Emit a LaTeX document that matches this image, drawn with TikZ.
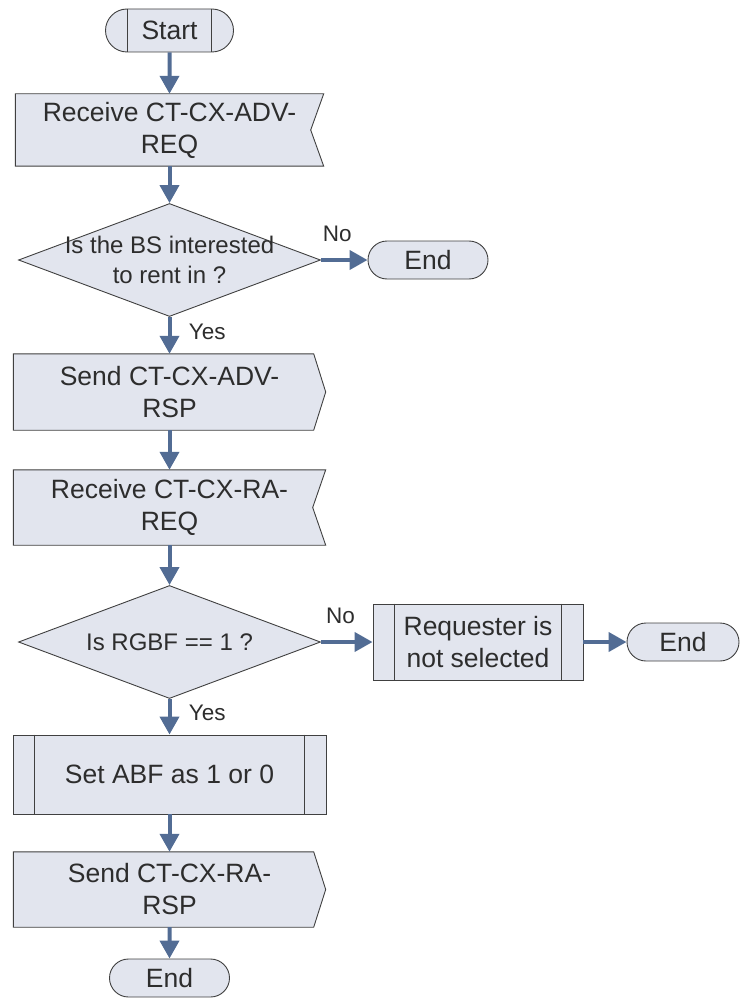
\documentclass[tikz,border=0pt]{standalone}
\usepackage{fontspec}
\setmainfont{Liberation Sans}
\usetikzlibrary{
    arrows.meta,
    shapes.geometric,
    shapes.misc,
    backgrounds,
    positioning
}
\definecolor{boxfill}{RGB}{226,229,238}
\definecolor{boxline}{RGB}{64,64,64}
\definecolor{flowblue}{RGB}{82,108,148}
\definecolor{ink}{RGB}{45,45,45}
\tikzset {
    shapeframe/.style = {draw = boxline, fill = boxfill, line width = 0.9pt},
    innerline/.style = {draw = boxline, line width = 0.9pt},
    box/.style = {
        rectangle,
        minimum width = 312pt,
        minimum height = 75pt,
        inner sep = 0pt,
        align = center,
        text = ink,
        font = \fontsize{26.5}{32}\selectfont
    },
    subproc/.style = {
        box, shapeframe,
        append after command = {
            ([xshift = 22pt]\tikzlastnode.north west) edge [innerline]
            ([xshift = 22pt]\tikzlastnode.south west)
            ([xshift = -22pt]\tikzlastnode.north east) edge [innerline]
            ([xshift = -22pt]\tikzlastnode.south east)
        }
    },
    terminal/.style = {
        rounded rectangle, shapeframe,
        minimum width = 120pt,
        minimum height = 38pt,
        inner sep = 0pt,
        text = ink,
        font = \fontsize{26.5}{32}\selectfont
    },
    decision/.style = {
        diamond, shapeframe,
        minimum width = 302pt,
        minimum height = 113pt,
        inner sep = 0pt
    },
    dtext/.style = {align = center, text = ink, font = \fontsize{24}{30}\selectfont},
    lbl/.style = {text = ink, font = \fontsize{22.5}{27}\selectfont},
    flow/.style = {
        draw = flowblue,
        line width = 4pt,
        arrows = {-Triangle[length = 18pt, width = 19pt]}
    }
}

\begin{document}
\begin{tikzpicture}[x = 1pt, y = -1pt]
    \useasboundingbox (0, 0) rectangle (740, 1003);

    \node (start) [terminal, minimum width = 128pt, minimum height = 43pt] at (169.5, 30.5) {Start};
    \draw [innerline] ([xshift = -42pt]start.north) -- ([xshift = -42pt]start.south);
    \draw [innerline] ([xshift = 42pt]start.north) -- ([xshift = 42pt]start.south);

    \node (recv1) [box, minimum width = 308pt, minimum height = 72pt] at (169.5, 130) {Receive CT-CX-ADV-\\REQ};
    \node (dec1) [decision, label = {[dtext]center:Is the BS interested\\to rent in ?}] at (169.5, 260) {};
    \node (end1) [terminal] at (428, 260) {End};
    \node (send1) [box, minimum height = 76pt] at (169.5, 392) {Send CT-CX-ADV-\\RSP};
    \node (recv2) [box] at (169.5, 507.5) {Receive CT-CX-RA-\\REQ};
    \node (dec2) [decision, label = {[dtext]center:Is RGBF == 1 ?}] at (169.5, 642) {};
    \node (reject) [subproc, minimum width = 210pt, minimum height = 76pt] at (478, 642) {Requester is\\not selected};
    \node (end2) [terminal, minimum width = 112pt] at (683, 642) {End};
    \node (setabf) [subproc, minimum width = 313pt, minimum height = 79pt] at (169.5, 774.5) {Set ABF as 1 or 0};
    \node (send2) [box] at (169.5, 889.5) {Send CT-CX-RA-\\RSP};
    \node (end3) [terminal] at (169.5, 978) {End};

    \begin{scope}[on background layer]
        \foreach \n in {recv1, recv2}
            \filldraw [shapeframe] (\n.north west) -- (\n.north east) -- ([xshift = -13pt]\n.east)
                -- (\n.south east) -- (\n.south west) -- cycle;
        \foreach \n in {send1, send2}
            \filldraw [shapeframe] (\n.north west) -- ([xshift = -12pt]\n.north east) -- (\n.east)
                -- ([xshift = -12pt]\n.south east) -- (\n.south west) -- cycle;
    \end{scope}

    \draw [flow] (start) -- (recv1);
    \draw [flow] (recv1) -- (dec1);
    \draw [flow] (dec1) -- node [lbl, pos = 0.35, above = 13pt] {No} (end1);
    \draw [flow] (dec1) -- node [lbl, pos = 0.4, right = 14pt] {Yes} (send1);
    \draw [flow] (send1) -- (recv2);
    \draw [flow] (recv2) -- (dec2);
    \draw [flow] (dec2) -- node [lbl, pos = 0.38, above = 13pt] {No} (reject);
    \draw [flow] (reject) -- (end2);
    \draw [flow] (dec2) -- node [lbl, pos = 0.4, right = 14pt] {Yes} (setabf);
    \draw [flow] (setabf) -- (send2);
    \draw [flow] (send2) -- (end3);
\end{tikzpicture}
\end{document}
